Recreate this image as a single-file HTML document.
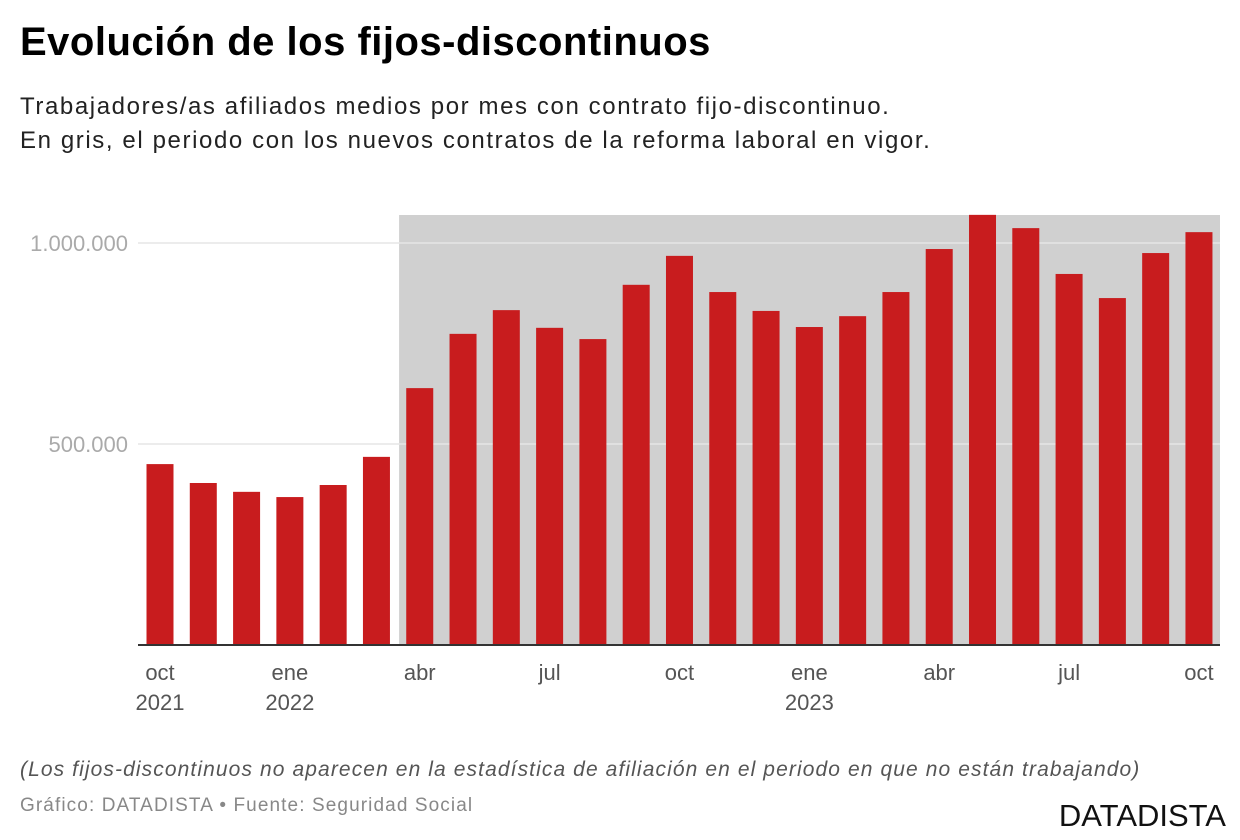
<!DOCTYPE html>
<html><head><meta charset="utf-8">
<style>
body{margin:0;width:1240px;height:840px;background:#fff;font-family:"Liberation Sans",sans-serif;overflow:hidden;position:relative}
.t{position:absolute;white-space:nowrap}
</style></head><body>
<div class="t" style="left:20px;top:20px;font-size:40px;font-weight:bold;color:#000;letter-spacing:0.5px">Evolución de los fijos-discontinuos</div>
<div class="t" style="left:20px;top:90px;font-size:24px;line-height:34px;color:#222;letter-spacing:1.6px">Trabajadores/as afiliados medios por mes con contrato fijo-discontinuo.<br>En gris, el periodo con los nuevos contratos de la reforma laboral en vigor.</div>
<svg width="1240" height="740" style="position:absolute;left:0;top:0" id="chart"></svg>
<div class="t" style="left:20px;top:758px;font-size:21px;font-style:italic;color:#555;letter-spacing:1.1px">(Los fijos-discontinuos no aparecen en la estadística de afiliación en el periodo en que no están trabajando)</div>
<div class="t" style="left:20px;top:795px;font-size:19px;color:#888;letter-spacing:1.1px">Gráfico: DATADISTA • Fuente: Seguridad Social</div>
<div class="t" style="right:14px;top:798px;font-size:31px;color:#111;letter-spacing:0px">DATADISTA</div>
<script>
const months=["oct","nov","dic","ene","feb","mar","abr","may","jun","jul","ago","sep","oct","nov","dic","ene","feb","mar","abr","may","jun","jul","ago","sep","oct"];
const values=[450000,403000,381000,368000,398000,468000,639000,774000,833000,789000,761000,896000,968000,878000,831000,791000,818000,878000,985000,1070000,1037000,923000,863000,975000,1027000];
const tickLabels=[{i:0,t:"oct",y:"2021"},{i:3,t:"ene",y:"2022"},{i:6,t:"abr"},{i:9,t:"jul"},{i:12,t:"oct"},{i:15,t:"ene",y:"2023"},{i:18,t:"abr"},{i:21,t:"jul"},{i:24,t:"oct"}];
const yTicks=[500000,1000000];
const yTickLabels=["500.000","1.000.000"];
const reformStart=6;
const svg=document.getElementById('chart');const NS="http://www.w3.org/2000/svg";
const x0=160,step=43.29,bw=27,left=138,right=1220,base=645,k=201/500000;
const X=i=>x0+i*step, Y=v=>base-v*k;
function mk(tag,a){const e=document.createElementNS(NS,tag);for(const p in a)e.setAttribute(p,a[p]);svg.appendChild(e);return e;}
const gx=X(reformStart)-step/2+1;
let g=mk('rect',{x:gx,y:215,width:right-gx,height:base-215,fill:'#d0d0d0'});


yTicks.forEach((v,j)=>{
 let l=mk('line',{x1:left,x2:right,y1:Y(v),y2:Y(v),stroke:'#e6e6e6','stroke-width':1.5});
 
 
 let t=mk('text',{x:128,y:Y(v)+8,'text-anchor':'end','font-size':22,fill:'#aaa','font-family':'Liberation Sans'});
 t.textContent=yTickLabels[j];
 
 
});
values.forEach((v,i)=>{
 let r=mk('rect',{x:X(i)-bw/2,y:Y(v),width:bw,height:base-Y(v),fill:'#c81c1e'});
 
 
});
let b=mk('line',{x1:left,x2:right,y1:base,y2:base,stroke:'#333','stroke-width':2});


tickLabels.forEach(tk=>{
 let t=mk('text',{x:X(tk.i),y:680,'text-anchor':'middle','font-size':22,fill:'#555','font-family':'Liberation Sans'});
 t.textContent=tk.t;
 
 
 if(tk.y){let y=mk('text',{x:X(tk.i),y:710,'text-anchor':'middle','font-size':22,fill:'#555','font-family':'Liberation Sans'});
 y.textContent=tk.y;
 
 }
});
</script>
</body></html>
